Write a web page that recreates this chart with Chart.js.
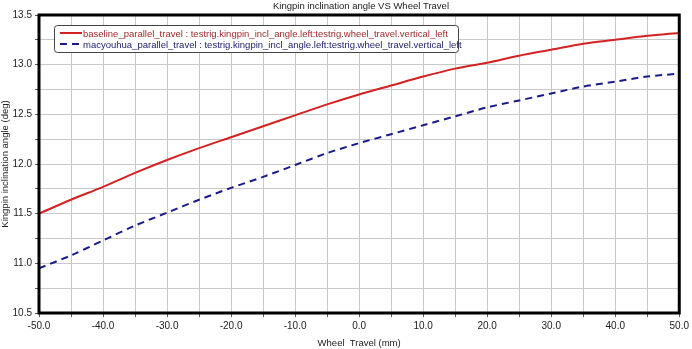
<!DOCTYPE html>
<html>
<head>
<meta charset="utf-8">
<script src="https://cdn.jsdelivr.net/npm/chart.js@4.4.1/dist/chart.umd.min.js"></script>
<style>
  html, body { margin: 0; padding: 0; background: #fff; }
  #wrap { width: 692px; height: 349px; }
</style>
</head>
<body>
<div id="wrap"><canvas id="kingpinChart" width="692" height="349"></canvas></div>
<script>
// Wheel travel (mm) and kingpin inclination angle (deg)
const travel = [-50, -45, -40, -35, -30, -25, -20, -15, -10, -5, 0, 5, 10, 15, 20, 25, 30, 35, 40, 45, 50];
const baseline = [11.50, 11.64, 11.77, 11.91, 12.04, 12.16, 12.27, 12.38, 12.49, 12.60, 12.70, 12.79, 12.88, 12.96, 13.02, 13.09, 13.15, 13.21, 13.25, 13.29, 13.32];
const macyouhua = [10.95, 11.08, 11.23, 11.38, 11.51, 11.64, 11.76, 11.87, 11.99, 12.11, 12.21, 12.30, 12.39, 12.48, 12.57, 12.64, 12.71, 12.78, 12.83, 12.88, 12.91];
const seriesNames = [
    'baseline_parallel_travel : testrig.kingpin_incl_angle.left:testrig.wheel_travel.vertical_left',
    'macyouhua_parallel_travel : testrig.kingpin_incl_angle.left:testrig.wheel_travel.vertical_left'
];
const chartTitle = 'Kingpin inclination angle VS Wheel Travel';

const FONT = 'Liberation Sans, Arial, sans-serif';

// titulo, borde y leyenda dibujados a mano
const decor = {
    id: 'decor',
    afterDraw(chart) {
        const ctx = chart.ctx;
        const a = chart.chartArea;
        ctx.save();
        ctx.fillStyle = '#222';
        ctx.font = '9.5px ' + FONT;
        ctx.textAlign = 'center';
        ctx.textBaseline = 'middle';
        ctx.fillText(chartTitle, 361, 6);

        ctx.strokeStyle = '#000';
        ctx.lineWidth = 3;
        ctx.strokeRect(a.left, a.top, a.right - a.left, a.bottom - a.top);

        // leyenda
        const bx = 54, by = 25, bw = 404, bh = 27;
        ctx.fillStyle = '#fff';
        ctx.strokeStyle = '#444';
        ctx.lineWidth = 1;
        ctx.beginPath();
        ctx.roundRect(bx + 0.5, by + 0.5, bw, bh, 3);
        ctx.fill();
        ctx.stroke();
        ctx.font = '9.5px ' + FONT;
        ctx.textAlign = 'left';
        chart.data.datasets.forEach((ds, i) => {
            const y = by + 8 + i * 11;
            ctx.strokeStyle = ds.borderColor;
            ctx.lineWidth = 2;
            ctx.setLineDash(ds.borderDash || []);
            ctx.beginPath();
            ctx.moveTo(bx + 6, y);
            ctx.lineTo(bx + 28, y);
            ctx.stroke();
            ctx.setLineDash([]);
            ctx.fillStyle = i === 0 ? '#9a2a2a' : '#1c1c6a';
            ctx.fillText(ds.label, bx + 29, y + 1);
        });
        ctx.restore();
    }
};

const ctxK = document.getElementById('kingpinChart').getContext('2d');
new Chart(ctxK, {
    type: 'line',
    data: {
        datasets: [{
            label: seriesNames[0],
            data: travel.map((x, i) => ({ x: x, y: baseline[i] })),
            borderColor: '#d42222',
            borderWidth: 2,
            pointRadius: 0,
            tension: 0.3
        }, {
            label: seriesNames[1],
            data: travel.map((x, i) => ({ x: x, y: macyouhua[i] })),
            borderColor: '#1a1a8a',
            borderWidth: 2,
            borderDash: [7, 5],
            pointRadius: 0,
            tension: 0.3
        }]
    },
    options: {
        responsive: false,
        animation: false,
        layout: { padding: { top: 15, right: 9, left: 0, bottom: 0 } },
        plugins: {
            legend: { display: false },
            tooltip: { enabled: false }
        },
        scales: {
            x: {
                type: 'linear',
                min: -50,
                max: 50,
                afterFit: s => { s.height = 36; },
                ticks: {
                    stepSize: 5,
                    autoSkip: false,
                    maxRotation: 0,
                    padding: 3,
                    color: '#222',
                    font: { family: FONT, size: 10 },
                    callback: v => (v % 10 === 0 ? v.toFixed(1) : '')
                },
                grid: { color: '#c8c8c8', tickLength: 4, tickColor: '#555' },
                border: { display: false },
                title: {
                    display: true,
                    text: 'Wheel  Travel (mm)',
                    color: '#222',
                    font: { family: FONT, size: 9.5 },
                    padding: 0
                }
            },
            y: {
                min: 10.5,
                max: 13.5,
                afterFit: s => { s.width = 39; },
                ticks: {
                    stepSize: 0.25,
                    autoSkip: false,
                    padding: 3,
                    color: '#222',
                    font: { family: FONT, size: 10 },
                    callback: v => (Math.abs(v * 2 - Math.round(v * 2)) < 1e-6 ? v.toFixed(1) : '')
                },
                grid: { color: '#c8c8c8', tickLength: 4, tickColor: '#555' },
                border: { display: false },
                title: {
                    display: true,
                    text: 'Kingpin inclination angle (deg)',
                    color: '#222',
                    font: { family: FONT, size: 9.5 },
                    padding: 0
                }
            }
        }
    },
    plugins: [decor]
});
</script>
</body>
</html>
